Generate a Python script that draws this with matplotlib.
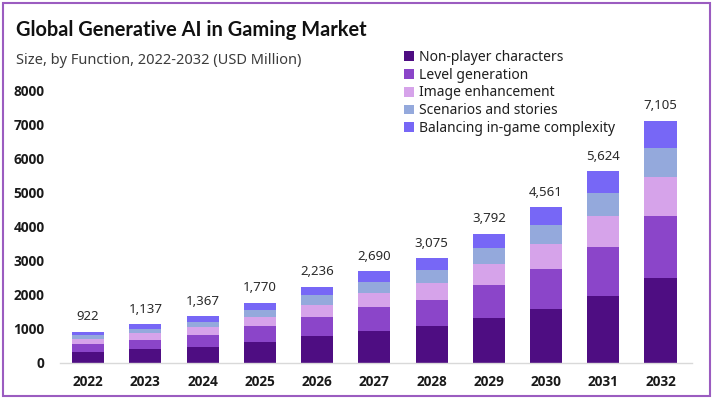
import matplotlib
matplotlib.use("Agg")
import matplotlib.pyplot as plt
import matplotlib.patches as mpatches
import numpy as np

# ---------------------------------------------------------------------------
# Data (USD Million)
# ---------------------------------------------------------------------------
years = ["2022", "2023", "2024", "2025", "2026", "2027",
         "2028", "2029", "2030", "2031", "2032"]
npc        = [323, 398, 478, 620, 783, 942, 1076, 1327, 1596, 1968, 2487]
level_gen  = [235, 290, 349, 451, 570, 686, 784, 967, 1163, 1434, 1812]
image_enh  = [148, 182, 219, 283, 358, 430, 492, 607, 730, 900, 1137]
scenarios  = [110, 136, 164, 212, 268, 323, 369, 455, 547, 675, 853]
balancing  = [106, 131, 157, 204, 257, 309, 354, 436, 525, 647, 816]
totals     = [922, 1137, 1367, 1770, 2236, 2690, 3075, 3792, 4561, 5624, 7105]

series_names = ["Non-player characters", "Level generation", "Image enhancement",
                "Scenarios and stories", "Balancing in-game complexity"]
series = [npc, level_gen, image_enh, scenarios, balancing]
colors = ["#4e0d82", "#8b45c9", "#d6a3ea", "#94a9dc", "#7767f6"]

# ---------------------------------------------------------------------------
# Figure
# ---------------------------------------------------------------------------
W, H = 715, 399
fig = plt.figure(figsize=(W / 100, H / 100), dpi=100)
fig.patch.set_facecolor("white")

ax = fig.add_axes([60 / W, (H - 363) / H, (692 - 60) / W, (363 - 90) / H])
x = np.arange(len(years))
bottom = np.zeros(len(years))
for name, vals, col in zip(series_names, series, colors):
    ax.bar(x, vals, width=0.56, bottom=bottom, color=col, label=name,
           linewidth=0, zorder=2)
    bottom += np.array(vals)

for xi, tot, lab in zip(x, bottom, totals):
    ax.annotate(f"{lab:,}", (xi, tot), xytext=(0, 6), textcoords="offset points",
                ha="center", va="bottom", fontsize=9.5, color="#2a2a2a",
                family="Noto Sans")

ax.set_xlim(-0.49, 10.55)
ax.set_ylim(0, 8000)
ax.set_yticks(range(0, 8001, 1000))
ax.set_xticks(x)
ax.set_xticklabels(years)
for s in ["top", "right", "left"]:
    ax.spines[s].set_visible(False)
ax.spines["bottom"].set_color("#d9d9d9")
ax.spines["bottom"].set_linewidth(1.0)
ax.tick_params(axis="both", length=0)
ax.tick_params(axis="x", pad=9)
ax.tick_params(axis="y", pad=11)
for t in ax.get_xticklabels() + ax.get_yticklabels():
    t.set_fontweight("bold")
    t.set_fontsize(9.8)
    t.set_color("#1a1a1a")
    t.set_family("Open Sans")

# Legend
handles = [mpatches.Patch(facecolor=c, label=n) for n, c in zip(series_names, colors)]
leg = fig.legend(handles=handles, loc="upper left",
                 bbox_to_anchor=(397 / W, 1 - 43 / H), frameon=False,
                 handlelength=0.7, handleheight=0.7,
                 handletextpad=0.4, labelspacing=0.2, borderpad=0,
                 prop={"family": "Noto Sans", "size": 10})
for t in leg.get_texts():
    t.set_color("#1f1f1f")

# Titles
fig.text(16 / W, 1 - 30 / H, "Global Generative AI in Gaming Market",
         ha="left", va="center", fontsize=14.4, fontweight="bold",
         color="#111111", family="Lato")
fig.text(16 / W, 1 - 60 / H, "Size, by Function, 2022-2032 (USD Million)",
         ha="left", va="center", fontsize=10.5, color="#3c3c3c",
         family="Noto Sans")

# Frame border
border = mpatches.Rectangle((3 / W, 3 / H), 707 / W, 393 / H,
                            transform=fig.transFigure, fill=False,
                            edgecolor="#9b5cc0", linewidth=1.5)
fig.patches.append(border)

fig.savefig("out.png", dpi=100, facecolor="white")
plt.close(fig)
